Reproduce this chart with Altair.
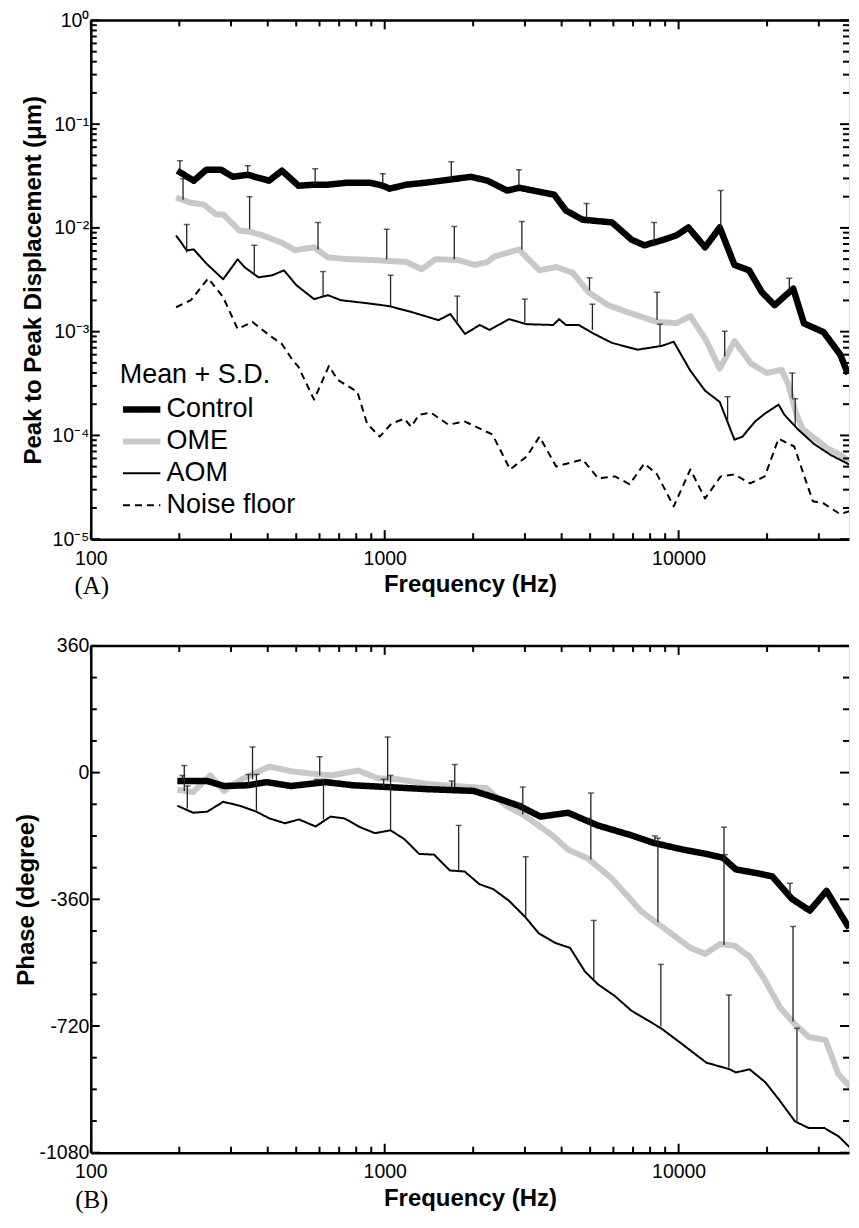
import altair as alt
import pandas as pd

# ---------------- Panel A : peak-to-peak displacement (um) ----------------
ctrl_f = [197, 224, 247, 278, 304, 342, 404, 447, 509, 575, 641, 747, 891, 985, 1039, 1184, 1380, 1647, 1966, 2239,
          2610, 2862, 3773, 4137, 4713, 5934, 6918, 7643, 8913, 9847, 10798, 12303, 13804, 15488, 17378, 19200,
          21220, 24547, 26710, 31150, 35481, 37730]
ctrl_d = [0.0356, 0.0285, 0.0363, 0.0363, 0.0311, 0.0325, 0.0285, 0.0356, 0.0255, 0.0261, 0.0261, 0.0273, 0.0273,
          0.0255, 0.0239, 0.0261, 0.0273, 0.0291, 0.0311, 0.0285, 0.0229, 0.0244, 0.0209, 0.0147, 0.0120, 0.0113,
          0.0077, 0.0068, 0.0077, 0.0085, 0.0101, 0.0065, 0.0101, 0.0044, 0.0039, 0.0024, 0.0018, 0.0026, 0.0012,
          0.00099, 0.0006, 0.00039]

ome_f = [195, 219, 242, 267, 282, 321, 347, 383, 447, 494, 575, 641, 747, 912, 1184, 1339, 1491, 1778, 2026, 2239,
         2362, 2862, 3363, 3831, 4365, 4935, 5754, 6709, 8446, 9847, 10965, 12396, 13804, 15488, 17647, 19953,
         22387, 23631, 25119, 26500, 28840, 32120, 35481, 38019]
ome_d = [0.0196, 0.0175, 0.0168, 0.0135, 0.0135, 0.0094, 0.0092, 0.0085, 0.0072, 0.0061, 0.0065, 0.0052, 0.0050,
         0.0049, 0.0047, 0.0040, 0.0050, 0.0049, 0.0044, 0.0047, 0.0053, 0.0062, 0.0039, 0.0042, 0.0037, 0.0024,
         0.0018, 0.00154, 0.00124, 0.00121, 0.00141, 0.00083, 0.00044, 0.00081, 0.00049, 0.00040, 0.00043,
         0.00031, 0.000162, 0.000114, 0.000095, 0.000075, 0.000065, 0.000056]

aom_f = [195, 203, 212, 224, 247, 282, 316, 334, 372, 414, 454, 501, 575, 641, 708, 871, 1039, 1240, 1525, 1672,
         1876, 2105, 2273, 2651, 3043, 3745, 3920, 4137, 4571, 5090, 5934, 7244, 8776, 9623, 10965, 12303, 13804,
         15488, 16469, 18197, 19652, 21878, 22909, 25509, 28840, 32871, 38019]
aom_d = [0.00845, 0.00724, 0.00607, 0.00621, 0.00455, 0.0032, 0.00498, 0.00417, 0.00334, 0.00349, 0.0039, 0.0028,
         0.00206, 0.00225, 0.00201, 0.00188, 0.00176, 0.00154, 0.00129, 0.00148, 0.00095, 0.00116, 0.00104,
         0.00132, 0.00118, 0.00116, 0.00132, 0.00116, 0.00116, 0.00097, 0.00078, 0.00067, 0.00073, 0.00080,
         0.00042, 0.00027, 0.00021, 0.000091, 0.000097, 0.000136, 0.000162, 0.000198, 0.000158, 0.000114,
         0.000083, 0.000065, 0.0000525]

noise_f = [195, 219, 251, 282, 316, 355, 404, 447, 483, 509, 575, 646, 692, 807, 871, 962, 1055, 1166, 1230, 1308,
           1434, 1647, 1876, 2326, 2671, 3043, 3363, 3831, 4713, 5330, 6072, 6813, 7643, 8446, 9623, 10965, 12303,
           13910, 15488, 17520, 19652, 21878, 24735, 28620, 31150, 35481, 38019]
noise_d = [0.00172, 0.00201, 0.00327, 0.00215, 0.00106, 0.00124, 0.000927, 0.00076, 0.000546, 0.000457, 0.000221,
           0.000468, 0.000343, 0.000263, 0.00013, 0.0000973, 0.00013, 0.000145, 0.000121, 0.000158, 0.000166,
           0.000127, 0.000136, 0.000102, 0.000047, 0.0000626, 0.0000973, 0.0000502, 0.0000586, 0.0000385,
           0.0000403, 0.0000338, 0.0000536, 0.0000421, 0.0000207, 0.000047, 0.0000247, 0.0000403, 0.0000421,
           0.0000345, 0.0000403, 0.0000931, 0.0000782, 0.0000232, 0.0000221, 0.0000174, 0.0000186]

# error bars (mean + S.D.) panel A
ctrl_eb_f = [201, 342, 580, 985, 1685, 2862, 4862, 8254, 13910, 23810]
ctrl_eb_mean = [0.0348, 0.0325, 0.0261, 0.0255, 0.0291, 0.0244, 0.0118, 0.0072, 0.0101, 0.0024]
ctrl_eb_top = [0.0443, 0.0397, 0.0372, 0.0333, 0.0434, 0.0363, 0.0172, 0.0113, 0.0229, 0.00327]
ome_eb_f = [206, 347, 593, 1016, 1725, 2929, 4975, 8446, 14350, 24360]
ome_eb_mean = [0.0187, 0.0097, 0.0062, 0.0050, 0.0050, 0.0062, 0.0025, 0.0013, 0.00058, 0.00023]
ome_eb_top = [0.0298, 0.0200, 0.0113, 0.0097, 0.0103, 0.0115, 0.0033, 0.0024, 0.00101, 0.00040]
aom_eb_f = [212, 360, 617, 1047, 1765, 2997, 5090, 8644, 14680, 24930]
aom_eb_mean = [0.0058, 0.0035, 0.00215, 0.00176, 0.00116, 0.00124, 0.00104, 0.00071, 0.000136, 0.000125]
aom_eb_top = [0.0108, 0.0068, 0.0038, 0.0035, 0.0022, 0.00206, 0.00184, 0.00118, 0.000236, 0.000226]

# ---------------- Panel B : phase (degree) ----------------
ctrl_p_f = [197, 249, 284, 342, 396, 480, 629, 781, 1023, 1394, 2005, 2394, 2860, 3390, 4209, 5306, 6901, 8244,
            10394, 12417, 14158, 15652, 18557, 20836, 24314, 27948, 31870, 38060]
ctrl_p = [-24, -24, -38, -36, -27, -38, -27, -36, -41, -47, -52, -72, -94, -125, -114, -150, -178, -200, -219, -231,
          -242, -275, -286, -295, -359, -392, -336, -442]

ome_p_f = [197, 223, 255, 284, 326, 405, 480, 551, 659, 812, 947, 1106, 1416, 2216, 2587, 2950, 3720, 4209, 4913,
           5912, 7456, 9397, 10972, 12318, 13831, 15536, 17444, 19587, 22161, 24691, 27733, 31623, 34970, 38360]
ome_p = [-49, -55, -8, -52, -19, 17, 4, -2, -8, 6, -16, -19, -33, -44, -94, -119, -178, -219, -244, -300, -394, -456,
         -498, -515, -487, -492, -523, -587, -668, -712, -751, -760, -857, -893]

aom_p_f = [197, 223, 249, 282, 321, 366, 405, 458, 511, 582, 654, 729, 824, 926, 1047, 1167, 1310, 1472, 1665, 1870,
           2100, 2340, 2647, 3019, 3338, 3806, 4274, 4800, 5306, 6051, 6901, 8702, 10155, 12417, 14949, 15652, 17444,
           19740, 21995, 24890, 27733, 31380, 34970, 38360]
aom_p = [-94, -114, -111, -83, -94, -111, -130, -144, -133, -153, -125, -130, -155, -172, -164, -189, -231, -233, -278,
         -281, -317, -331, -364, -412, -456, -484, -498, -565, -601, -634, -676, -726, -768, -824, -843, -852, -843,
         -880, -930, -991, -1010, -1010, -1033, -1066]

ctrl_pe_f = [205, 344, 587, 992, 1691, 2883, 4913, 8308, 14380, 23940]
ctrl_pe_mean = [-24, -36, -27, -41, -49, -97, -141, -200, -242, -350]
ctrl_pe_top = [-8, -5, -19, -19, -24, -88, -130, -180, -233, -314]
ome_pe_f = [208, 355, 601, 1023, 1731, 2950, 5028, 8502, 14270, 24510]
ome_pe_mean = [-52, -19, -8, -22, -41, -119, -247, -425, -490, -707]
ome_pe_top = [20, 73, 45, 101, 23, -41, -58, -186, -155, -437]
aom_pe_f = [213, 366, 619, 1047, 1785, 3019, 5145, 8702, 14830, 25275]
aom_pe_mean = [-102, -108, -133, -164, -281, -412, -587, -721, -838, -996]
aom_pe_top = [-38, -5, -19, -8, -150, -239, -420, -545, -632, -726]

# ---------------- styling ----------------
SERIES = ["Control", "OME", "AOM", "Noise floor"]
SERIES_COLORS = ["#000000", "#c8c8c8", "#000000", "#000000"]
SERIES_WIDTHS = [6.5, 6, 2, 2]
SERIES_DASH = [[1, 0], [1, 0], [1, 0], [7, 5]]

X_DOMAIN = [100, 38000]
X_MAJOR = [100, 1000, 10000]
X_MINOR = [200, 300, 400, 500, 600, 700, 800, 900, 2000, 3000, 4000, 5000, 6000, 7000, 8000, 9000, 20000, 30000]
A_Y_DOMAIN = [1e-5, 1]
A_Y_MAJOR = [1e-5, 1e-4, 1e-3, 1e-2, 1e-1, 1]
A_Y_MINOR = [m * d for d in [1e-5, 1e-4, 1e-3, 1e-2, 1e-1] for m in [2, 3, 4, 5, 6, 7, 8, 9]]
B_Y_DOMAIN = [-1080, 360]
B_Y_MAJOR = [-1080, -720, -360, 0, 360]
B_Y_MINOR = [-990, -900, -810, -630, -540, -450, -270, -180, -90, 90, 180, 270]

FONT = "Liberation Sans"
W = 760
HA = 520
HB = 508
MAJOR_LEN = 9
MINOR_LEN = 6


def label_axis(orient, values, title, fmt=None, label_expr=None, pad=8, title_pad=6):
    kw = dict(orient=orient, values=values, title=title, ticks=False, domain=True, domainColor="black",
              domainWidth=2.5, labels=True, labelFont=FONT, labelFontSize=19.5, labelColor="black",
              labelPadding=pad, labelFlush=False, labelOverlap=False, titleFont=FONT, titleFontSize=24,
              titleFontWeight="bold", titleColor="black", titlePadding=title_pad, grid=False)
    if fmt is not None:
        kw["format"] = fmt
    if label_expr is not None:
        kw["labelExpr"] = label_expr
    return alt.Axis(**kw)


def tick_rules(values, side, length, xs, ys, x_ax, y_ax, width, height):
    base = alt.Chart(pd.DataFrame({"v": values})).mark_rule(color="black", strokeWidth=2)
    if side == "bottom":
        return base.encode(x=alt.X("v:Q", scale=xs, axis=x_ax), y=alt.value(height), y2=alt.value(height - length))
    if side == "top":
        return base.encode(x=alt.X("v:Q", scale=xs, axis=x_ax), y=alt.value(0), y2=alt.value(length))
    if side == "left":
        return base.encode(y=alt.Y("v:Q", scale=ys, axis=y_ax), x=alt.value(0), x2=alt.value(length))
    return base.encode(y=alt.Y("v:Q", scale=ys, axis=y_ax), x=alt.value(width), x2=alt.value(width - length))


def long_df(pairs):
    rows = []
    for name, fs, vs in pairs:
        for f, v in zip(fs, vs):
            rows.append({"freq": f, "value": v, "series": name})
    return pd.DataFrame(rows)


def eb_df(triples):
    rows = []
    for name, fs, ms, ts in triples:
        for f, m, t in zip(fs, ms, ts):
            rows.append({"freq": f, "mean": m, "top": t, "series": name})
    return pd.DataFrame(rows)


A_LABELS = ("datum.value > 0.5 ? '10⁰' : datum.value > 0.05 ? '10⁻¹' : datum.value > 0.005 ? '10⁻²' : "
            "datum.value > 0.0005 ? '10⁻³' : datum.value > 0.00005 ? '10⁻⁴' : '10⁻⁵'")


def panel(lines, bars, y_domain, y_type, y_major, y_minor, y_title, y_labels, height, tag, show_legend, y_title_pad):
    xs = alt.Scale(type="log", domain=X_DOMAIN)
    if y_type == "log":
        ys = alt.Scale(type="log", domain=y_domain)
    else:
        ys = alt.Scale(type="linear", domain=y_domain, nice=False, zero=False)
    x_ax = label_axis("bottom", X_MAJOR, "Frequency (Hz)", fmt="d", pad=10, title_pad=5)
    y_ax = label_axis("left", y_major, y_title, label_expr=y_labels, pad=2, title_pad=y_title_pad)

    if show_legend:
        lg = alt.Legend(title="Mean + S.D.", orient="none", legendX=29, legendY=342,
                        titleFont=FONT, titleFontSize=27, titleFontWeight="normal", titleColor="black",
                        labelFont=FONT, labelFontSize=27, labelColor="black", symbolType="stroke",
                        symbolSize=1400, clipHeight=28, rowPadding=4, titlePadding=7, labelOffset=3)
    else:
        lg = None

    sc_color = alt.Scale(domain=SERIES, range=SERIES_COLORS)
    sc_width = alt.Scale(type="ordinal", domain=SERIES, range=SERIES_WIDTHS)
    sc_dash = alt.Scale(domain=SERIES, range=SERIES_DASH)

    line_layer = alt.Chart(lines).mark_line(clip=True, strokeJoin="round").encode(
        x=alt.X("freq:Q", scale=xs, axis=x_ax),
        y=alt.Y("value:Q", scale=ys, axis=y_ax),
        color=alt.Color("series:N", scale=sc_color, legend=lg),
        strokeWidth=alt.StrokeWidth("series:N", scale=sc_width, legend=lg),
        strokeDash=alt.StrokeDash("series:N", scale=sc_dash, legend=lg),
    )
    rule_layer = alt.Chart(bars).mark_rule(color="#222222", strokeWidth=1.3, clip=True).encode(
        x=alt.X("freq:Q", scale=xs, axis=x_ax),
        y=alt.Y("mean:Q", scale=ys, axis=y_ax),
        y2="top:Q",
    )
    cap_layer = alt.Chart(bars).mark_tick(orient="horizontal", size=6, thickness=1.5, color="#222222",
                                          clip=True).encode(
        x=alt.X("freq:Q", scale=xs, axis=x_ax),
        y=alt.Y("top:Q", scale=ys, axis=y_ax),
    )
    ticks = [
        tick_rules(X_MAJOR, "bottom", MAJOR_LEN, xs, ys, x_ax, y_ax, W, height),
        tick_rules(X_MINOR, "bottom", MINOR_LEN, xs, ys, x_ax, y_ax, W, height),
        tick_rules(X_MAJOR, "top", MAJOR_LEN, xs, ys, x_ax, y_ax, W, height),
        tick_rules(X_MINOR, "top", MINOR_LEN, xs, ys, x_ax, y_ax, W, height),
        tick_rules(y_major, "left", MAJOR_LEN, xs, ys, x_ax, y_ax, W, height),
        tick_rules(y_minor, "left", MINOR_LEN, xs, ys, x_ax, y_ax, W, height),
        tick_rules(y_major, "right", MAJOR_LEN, xs, ys, x_ax, y_ax, W, height),
        tick_rules(y_minor, "right", MINOR_LEN, xs, ys, x_ax, y_ax, W, height),
    ]
    top_frame = alt.Chart(pd.DataFrame({"edge": ["top"]})).mark_rule(color="black", strokeWidth=2.5).encode(
        x=alt.value(0), x2=alt.value(W), y=alt.value(0))
    tag_layer = alt.Chart(pd.DataFrame({"label": [tag]})).mark_text(
        font="Liberation Serif", fontSize=25, color="black", align="center", baseline="middle").encode(
        text="label:N", x=alt.value(1), y=alt.value(height + 47))

    return alt.layer(line_layer, rule_layer, cap_layer, *ticks, top_frame, tag_layer).properties(
        width=W, height=height)


lines_a = long_df([("OME", ome_f, ome_d), ("Control", ctrl_f, ctrl_d), ("AOM", aom_f, aom_d),
                   ("Noise floor", noise_f, noise_d)])
bars_a = eb_df([("Control", ctrl_eb_f, ctrl_eb_mean, ctrl_eb_top), ("OME", ome_eb_f, ome_eb_mean, ome_eb_top),
                ("AOM", aom_eb_f, aom_eb_mean, aom_eb_top)])
lines_b = long_df([("OME", ome_p_f, ome_p), ("Control", ctrl_p_f, ctrl_p), ("AOM", aom_p_f, aom_p)])
bars_b = eb_df([("Control", ctrl_pe_f, ctrl_pe_mean, ctrl_pe_top), ("OME", ome_pe_f, ome_pe_mean, ome_pe_top),
                ("AOM", aom_pe_f, aom_pe_mean, aom_pe_top)])

top = panel(lines_a, bars_a, A_Y_DOMAIN, "log", A_Y_MAJOR, A_Y_MINOR, "Peak to Peak Displacement (μm)",
            A_LABELS, HA, "(A)", True, 6)
bottom = panel(lines_b, bars_b, B_Y_DOMAIN, "linear", B_Y_MAJOR, B_Y_MINOR, "Phase (degree)",
               "'' + datum.value", HB, "(B)", False, 1)

chart = alt.vconcat(top, bottom, spacing=35).resolve_scale(
    color="independent", strokeWidth="independent", strokeDash="independent"
).properties(
    padding={"left": 5, "top": 0, "right": 0, "bottom": 0}
).configure_view(stroke=None).configure(background="white")

chart.save("out.html", embed_options={"renderer": "svg", "actions": False})
